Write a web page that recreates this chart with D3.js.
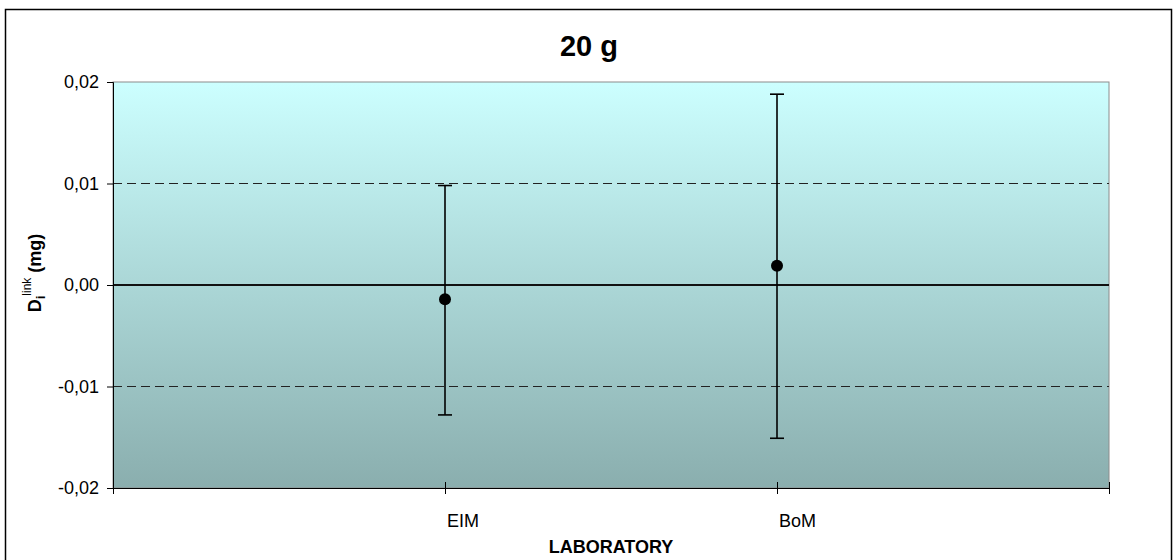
<html>
<head>
<meta charset="utf-8">
<script src="https://d3js.org/d3.v7.min.js"></script>
<style>
body { margin: 0; background: #fff; }
svg { display: block; font-family: Arial, "Liberation Sans", sans-serif; }
</style>
</head>
<body>
<svg></svg>
<script>
var width = 1174;
var height = 560;

// values
var labs = ["EIM", "BoM"];
var di = [-0.0014, 0.0019];
var upper = [0.0098, 0.0188];
var lower = [-0.0128, -0.0151];
var yTicks = [-0.02, -0.01, 0, 0.01, 0.02];
var gridVals = [-0.01, 0.01];

var padL = 113, padR = 1109, padT = 82, padB = 488;

var svg = d3.select("svg").attr("width", width).attr("height", height);

var xScale = d3.scaleLinear().domain([0, 3]).range([padL, padR]);
var yScale = d3.scaleLinear().domain([-0.02, 0.02]).range([padB, padT]);

// decimal comma, plain hyphen for negatives
var fmt = function (v) { return (v < 0 ? "-" : "") + d3.format(".2f")(Math.abs(v)).replace(".", ","); };

// outer border
svg.append("rect")
.attr("x", 5.5).attr("y", 9.5)
.attr("width", 1166).attr("height", 570)
.style("fill", "#fff").style("stroke", "#000").style("stroke-width", 1.5);

// plot background gradient
var grad = svg.append("defs").append("linearGradient")
.attr("id", "bg").attr("x1", 0).attr("y1", 0).attr("x2", 0).attr("y2", 1);
grad.append("stop").attr("offset", "0%").attr("stop-color", "#ccffff");
grad.append("stop").attr("offset", "100%").attr("stop-color", "#8aaeae");

svg.append("rect")
.attr("x", padL).attr("y", padT)
.attr("width", padR - padL).attr("height", padB - padT)
.style("fill", "url(#bg)").style("stroke", "#8c8c8c").style("stroke-width", 1);

// dashed gridlines
svg.selectAll("line.grid").data(gridVals).enter().append("line")
.attr("class", "grid")
.attr("x1", padL).attr("x2", padR)
.attr("y1", function (d) { return yScale(d); })
.attr("y2", function (d) { return yScale(d); })
.style("stroke", "#222").style("stroke-width", 1).style("stroke-dasharray", "9,5");

// zero line
svg.append("line")
.attr("x1", padL).attr("x2", padR)
.attr("y1", yScale(0)).attr("y2", yScale(0))
.style("stroke", "#111").style("stroke-width", 2);

// y axis
var yAxis = d3.axisLeft(yScale).tickValues(yTicks).tickFormat(fmt).tickSize(6).tickPadding(8);
var gy = svg.append("g").attr("transform", "translate(" + padL + ",0)").call(yAxis);
gy.select(".domain").style("stroke", "#000");
gy.selectAll(".tick line").style("stroke", "#000");
gy.selectAll(".tick text").style("font-size", "18px").style("fill", "#000")
.style("font-family", "Arial, 'Liberation Sans', sans-serif");

// x axis: ticks crossing the axis line
var gx = svg.append("g").attr("transform", "translate(0," + padB + ")")
.call(d3.axisBottom(xScale).tickValues([0, 1, 2, 3]).tickSize(6).tickFormat(""));
gx.select(".domain").style("stroke", "#000");
gx.selectAll(".tick line").attr("y1", -6).style("stroke", "#000");

svg.selectAll("text.cat").data(labs).enter().append("text")
.attr("class", "cat")
.attr("x", function (d, i) { return xScale(i + 1) + 2; })
.attr("y", 527)
.style("font-size", "18px")
.text(function (d) { return d; });

// error bars
var bars = svg.selectAll("g.err").data(labs).enter().append("g").attr("class", "err");
bars.append("line")
.attr("x1", function (d, i) { return xScale(i + 1); })
.attr("x2", function (d, i) { return xScale(i + 1); })
.attr("y1", function (d, i) { return yScale(upper[i]); })
.attr("y2", function (d, i) { return yScale(lower[i]); })
.style("stroke", "#000").style("stroke-width", 1.6);
bars.append("line")
.attr("x1", function (d, i) { return xScale(i + 1) - 7; })
.attr("x2", function (d, i) { return xScale(i + 1) + 7; })
.attr("y1", function (d, i) { return yScale(upper[i]); })
.attr("y2", function (d, i) { return yScale(upper[i]); })
.style("stroke", "#000").style("stroke-width", 1.6);
bars.append("line")
.attr("x1", function (d, i) { return xScale(i + 1) - 7; })
.attr("x2", function (d, i) { return xScale(i + 1) + 7; })
.attr("y1", function (d, i) { return yScale(lower[i]); })
.attr("y2", function (d, i) { return yScale(lower[i]); })
.style("stroke", "#000").style("stroke-width", 1.6);
bars.append("circle")
.attr("cx", function (d, i) { return xScale(i + 1); })
.attr("cy", function (d, i) { return yScale(di[i]); })
.attr("r", 6)
.style("fill", "#000");

// titles
svg.append("text")
.attr("x", 589).attr("y", 56)
.attr("text-anchor", "middle")
.style("font-size", "29px").style("font-weight", "bold")
.text("20 g");

svg.append("text")
.attr("x", (padL + padR) / 2).attr("y", 553)
.attr("text-anchor", "middle")
.style("font-size", "18px").style("font-weight", "bold")
.text("LABORATORY");

var yt = svg.append("text")
.attr("transform", "translate(41,273) rotate(-90)")
.attr("text-anchor", "middle")
.style("font-size", "18px").style("font-weight", "bold");
yt.append("tspan").text("D");
yt.append("tspan").attr("dy", 4).style("font-size", "13px").text("i");
yt.append("tspan").attr("dy", -14).style("font-size", "12px").style("font-weight", "normal").text("link");
yt.append("tspan").attr("dy", 10).text(" (mg)");
</script>
</body>
</html>
